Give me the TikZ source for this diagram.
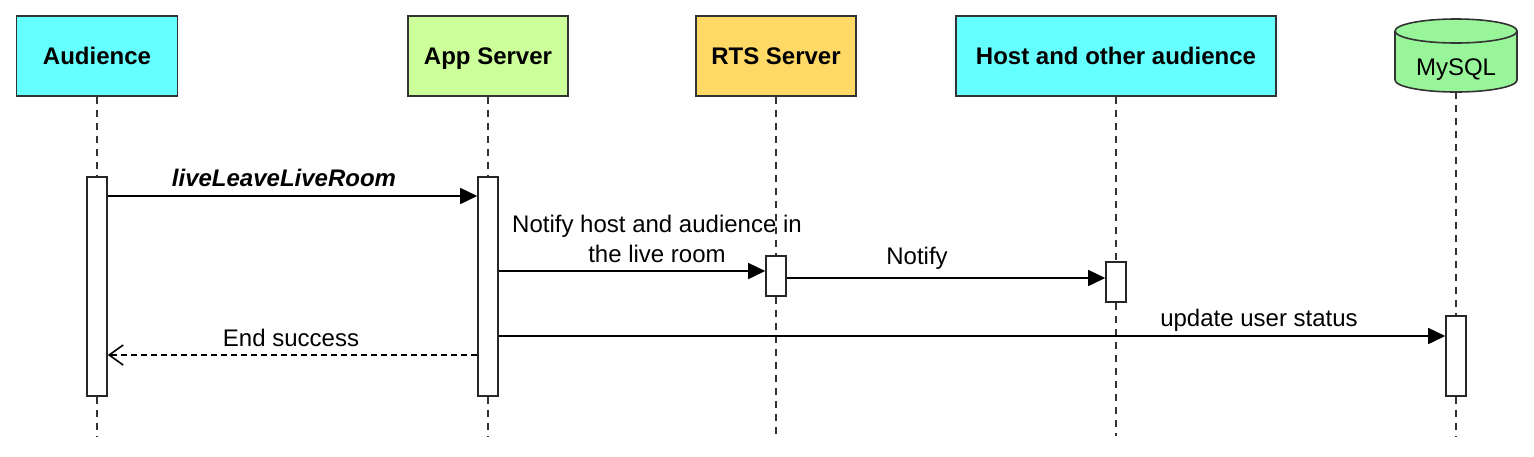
\documentclass[tikz,border=0pt]{standalone}
\usepackage{fontspec}
\setmainfont{Liberation Sans}
\usetikzlibrary{arrows.meta,calc}
\definecolor{cyanbox}{HTML}{66FFFF}
\definecolor{appbox}{HTML}{CCFF99}
\definecolor{rtsbox}{HTML}{FFD966}
\definecolor{dbgreen}{HTML}{99F599}
\begin{document}
\begin{tikzpicture}[x=0.5pt,y=-0.5pt,
 head/.style={draw=black!80,line width=0.8pt,minimum width=80pt,minimum height=40pt,font=\fontsize{12}{14}\selectfont\bfseries,text height=8.6pt,text depth=0pt,inner sep=0pt},
 bar/.style={draw=black!85,fill=white,line width=0.8pt,minimum width=10pt,inner sep=0pt},
 life/.style={line width=0.75pt,dash pattern=on 3.5pt off 3pt,draw=black!80},
 msg/.style={line width=0.8pt,-{Triangle[length=8.5pt,width=8pt]}},
 ret/.style={line width=0.8pt,dash pattern=on 3pt off 2pt,-{Straight Barb[length=7pt,width=10pt]}},
 lbl/.style={font=\fontsize{12}{15}\selectfont,inner sep=0pt,anchor=base,align=center},
]
\useasboundingbox (0,0) rectangle (1534,456);
\path[fill=white] (0,0) rectangle (1534,456);

% heads
\node[head,fill=cyanbox,minimum width=80.5pt] (a) at (97,56) {Audience};
\node[head,fill=appbox] (app) at (488,56) {App Server};
\node[head,fill=rtsbox] (rts) at (776,56) {RTS Server};
\node[head,fill=cyanbox,minimum width=160pt] (host) at (1116,56) {Host and other audience};

% cylinder
\draw[fill=dbgreen,draw=black!80,line width=0.8pt]
  (1395,80) arc[start angle=180,end angle=360,x radius=30.5pt,y radius=6pt]
  -- (1517,31) arc[start angle=0,end angle=180,x radius=30.5pt,y radius=6pt] -- cycle;
\draw[draw=black!80,line width=0.8pt]
  (1395,31) arc[start angle=180,end angle=360,x radius=30.5pt,y radius=6pt];
\node[font=\fontsize{12}{14}\selectfont,text height=8.6pt,text depth=0pt,inner sep=0pt] (db) at (1456,67) {MySQL};
\coordinate (dbb) at (1456,92);

% activation bars
\node[bar,minimum height=109.5pt] (abar) at (97,286.5) {};
\node[bar,minimum height=109.5pt] (appbar) at (488,286.5) {};
\node[bar,minimum height=20pt] (rtsbar) at (776,276) {};
\node[bar,minimum height=20pt] (hostbar) at (1116,282) {};
\node[bar,minimum height=40pt] (dbbar) at (1456,356) {};

% lifeline ends
\coordinate (aend) at (97,436);
\coordinate (append) at (488,436);
\coordinate (rtsend) at (776,436);
\coordinate (hostend) at (1116,436);
\coordinate (dbend) at (1456,436);

\draw[life] (a.south) -- (abar.north);
\draw[life] (abar.south) -- (aend);
\draw[life] (app.south) -- (appbar.north);
\draw[life] (appbar.south) -- (append);
\draw[life] (rts.south) -- (rtsbar.north);
\draw[life] (rtsbar.south) -- (rtsend);
\draw[life] (host.south) -- (hostbar.north);
\draw[life] (hostbar.south) -- (hostend);
\draw[life] (dbb) -- (dbbar.north);
\draw[life] (dbbar.south) -- (dbend);

% message levels
\coordinate (y1) at (0,196);
\coordinate (y2) at (0,271);
\coordinate (y3) at (0,278);
\coordinate (y4) at (0,336);
\coordinate (y5) at (0,355);

\draw[msg] (abar.east |- y1) -- (appbar.west |- y1);
\draw[msg] (appbar.east |- y2) -- (rtsbar.west |- y2);
\draw[msg] (rtsbar.east |- y3) -- (hostbar.west |- y3);
\draw[msg] (appbar.east |- y4) -- (dbbar.west |- y4);
\draw[ret] (appbar.west |- y5) -- (abar.east |- y5);

% labels
\node[lbl,font=\fontsize{12}{15}\selectfont\bfseries\itshape] (m1) at (284,186) {liveLeaveLiveRoom};
\node[lbl,anchor=center] (m2) at (657,239) {Notify host and audience in\\the live room};
\node[lbl] (m3) at (917,264) {Notify};
\node[lbl] (m4) at (1259,326) {update user status};
\node[lbl] (m5) at (291,346) {End success};
\end{tikzpicture}
\end{document}
